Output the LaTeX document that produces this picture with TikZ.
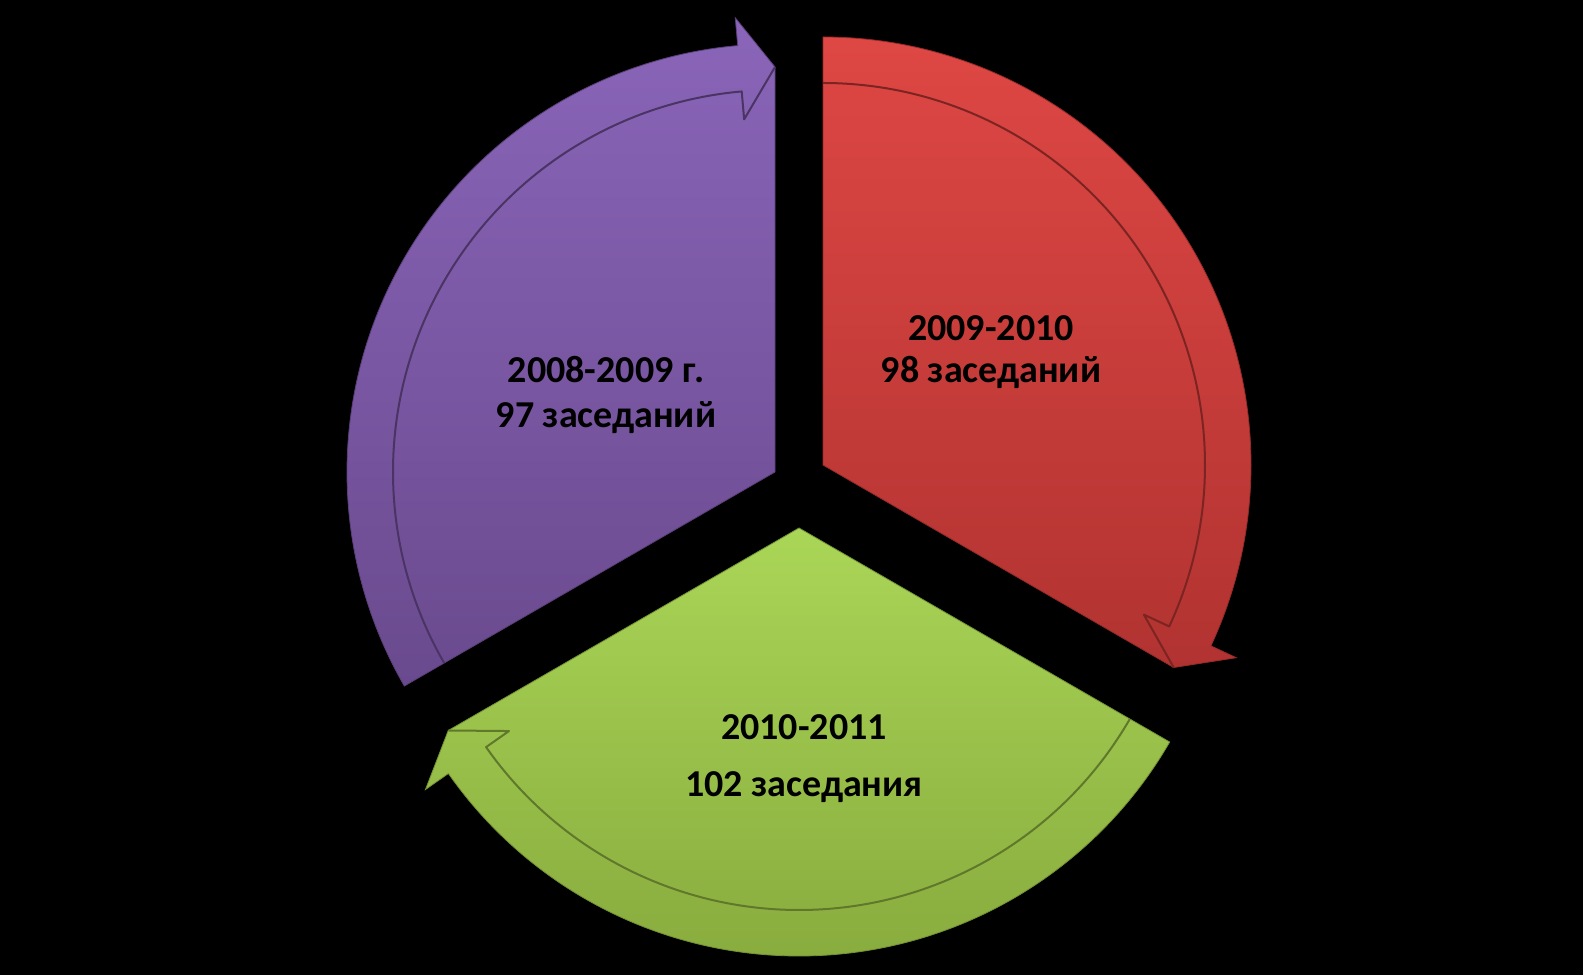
\documentclass[tikz,border=0pt]{standalone}
\usepackage{fontspec}
\setmainfont{Carlito}
\usepackage{tikz}
\usetikzlibrary{positioning}

\definecolor{violetTop}{HTML}{8A65B9}
\definecolor{violetBot}{HTML}{6A4A8E}
\definecolor{redTop}{HTML}{DE4744}
\definecolor{redBot}{HTML}{B13331}
\definecolor{greenTop}{HTML}{AAD657}
\definecolor{greenBot}{HTML}{89AC3E}

\begin{document}
\begin{tikzpicture}[x=1pt, y=1pt,
  segtext/.style={align=center, font=\fontsize{38}{45}\selectfont\bfseries, text=black},
  bandline/.style={line width=2pt, line join=round}]
\fill[black] (0,0) rectangle (1583,975);
\coordinate (apexA) at (775,503);
\coordinate (apexB) at (823,510);
\coordinate (apexC) at (799,447);

% 2008-2009
\begin{scope}[shift={(apexA)}]
  \shadedraw[top color=violetTop, bottom color=violetBot, draw=violetBot!85!black, line width=0.8pt]
    (0,0) -- (210:428) arc[start angle=210, end angle=95, radius=428] -- (95:456) -- (90:405) -- cycle;
  \draw[bandline, violetBot!70!black] (210:382) arc[start angle=210, end angle=95, radius=382] -- (95:354) -- (90:405);
\end{scope}

% 2009-2010
\begin{scope}[shift={(apexB)}]
  \shadedraw[top color=redTop, bottom color=redBot, draw=redBot!85!black, line width=0.8pt]
    (0,0) -- (90:428) arc[start angle=90, end angle=-25, radius=428] -- (-25:456) -- (-30:405) -- cycle;
  \draw[bandline, redBot!70!black] (90:382) arc[start angle=90, end angle=-25, radius=382] -- (-25:354) -- (-30:405);
\end{scope}

% 2010-2011
\begin{scope}[shift={(apexC)}]
  \shadedraw[top color=greenTop, bottom color=greenBot, draw=greenBot!85!black, line width=0.8pt]
    (0,0) -- (330:428) arc[start angle=330, end angle=215, radius=428] -- (215:456) -- (210:405) -- cycle;
  \draw[bandline, greenBot!70!black] (330:382) arc[start angle=330, end angle=215, radius=382] -- (215:354) -- (210:405);
\end{scope}

\node[segtext] (txtA) at (606,580) {2008-2009 г.\\97 заседаний};
\node[segtext] (txtB) at (991,623) {2009-2010\\[-2.5pt]98 заседаний};
\node[segtext] (txtC) at (804,216) {2010-2011\\[12pt]102 заседания};
\end{tikzpicture}
\end{document}
